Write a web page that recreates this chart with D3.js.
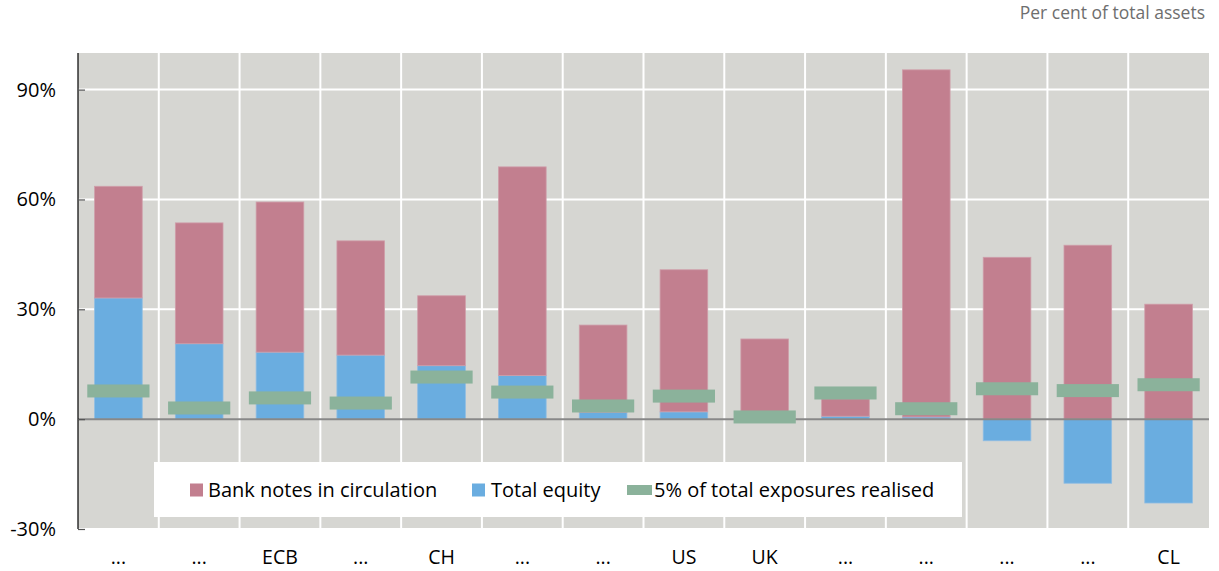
<!DOCTYPE html>
<html>
<head>
<meta charset="utf-8">
<script src="https://cdn.jsdelivr.net/npm/d3@7"></script>
<style>
  html, body { margin: 0; padding: 0; background: #ffffff; }
  svg { display: block; font-family: "Open Sans", "Noto Sans", sans-serif; }
</style>
</head>
<body>
<svg id="chart" width="1219" height="571"></svg>
<script>
// ---- data ----
const categories = ["...", "...", "ECB", "...", "CH", "...", "...", "US", "UK", "...", "...", "...", "...", "CL"];
const totalEquity = [33.1, 20.6, 18.3, 17.5, 14.6, 11.9, 1.9, 2.0, 0.0, 0.8, 0.6, -5.9, -17.5, -22.9];
const bankNotes   = [30.5, 33.0, 41.0, 31.2, 19.1, 57.0, 23.8, 38.8, 21.9, 4.75, 94.8, 44.2, 47.5, 31.4];
const exposures5  = [7.7, 3.05, 5.8, 4.4, 11.5, 7.4, 3.6, 6.3, 0.6, 7.15, 2.85, 8.3, 7.8, 9.4];
const yTicks = [-30, 0, 30, 60, 90];
const seriesNames = ["Bank notes in circulation", "Total equity", "5% of total exposures realised"];
const unitLabel = "Per cent of total assets";

(function () {
// ---- styles ----
const colNotes = "#C27F8F", colEquity = "#6AADE0", colExp = "#8BB29B";
const bg = "#D6D6D2";

const svg = d3.select("#chart");
const pL = 78, pR = 1209, pT = 53, pB = 529;

const x = d3.scaleBand().domain(d3.range(categories.length)).range([pL, pR]).paddingInner(0).paddingOuter(0);
const y = d3.scaleLinear().domain([-30, 100]).range([pB, pT]);

// background
svg.append("rect").attr("x", pL).attr("y", pT).attr("width", pR - pL).attr("height", pB - 1 - pT).attr("fill", bg);

// horizontal grid
svg.append("g").selectAll("line").data(yTicks.filter(d => d !== 0 && d !== -30)).join("line")
  .attr("x1", pL).attr("x2", pR).attr("y1", d => y(d)).attr("y2", d => y(d))
  .attr("stroke", "#ffffff").attr("stroke-width", 2);
// vertical category separators
svg.append("g").selectAll("line").data(d3.range(1, categories.length)).join("line")
  .attr("x1", i => x(i)).attr("x2", i => x(i)).attr("y1", pT).attr("y2", pB - 1)
  .attr("stroke", "#ffffff").attr("stroke-width", 2);

const bw = x.bandwidth();
const barW = bw * 0.59, mkW = bw * 0.77, mkH = 13;

// equity bars
svg.append("g").selectAll("rect").data(totalEquity).join("rect")
  .attr("x", (d, i) => x(i) + (bw - barW) / 2)
  .attr("y", d => d >= 0 ? y(d) : y(0))
  .attr("width", barW)
  .attr("height", d => Math.abs(y(d) - y(0)))
  .attr("fill", colEquity).attr("stroke", "#8fbde3").attr("stroke-width", 0.8);

// bank notes stacked on positive equity
svg.append("g").selectAll("rect").data(bankNotes).join("rect")
  .attr("x", (d, i) => x(i) + (bw - barW) / 2)
  .attr("y", (d, i) => y(Math.max(totalEquity[i], 0) + d))
  .attr("width", barW)
  .attr("height", (d, i) => y(Math.max(totalEquity[i], 0)) - y(Math.max(totalEquity[i], 0) + d))
  .attr("fill", colNotes).attr("stroke", "#cf9eaa").attr("stroke-width", 0.8);

// zero line
svg.append("line").attr("x1", pL).attr("x2", pR).attr("y1", y(0)).attr("y2", y(0))
  .attr("stroke", "#888888").attr("stroke-width", 2);

// exposure markers
svg.append("g").selectAll("rect").data(exposures5).join("rect")
  .attr("x", (d, i) => x(i) + (bw - mkW) / 2)
  .attr("y", d => y(d) - mkH / 2)
  .attr("width", mkW).attr("height", mkH)
  .attr("fill", colExp);

// y axis
const yAxis = d3.axisLeft(y).tickValues(yTicks).tickFormat(d => d + "%").tickSize(-7).tickPadding(22);
const ga = svg.append("g").attr("transform", `translate(${pL},0)`).call(yAxis);
ga.select(".domain").attr("stroke", "#000").attr("stroke-width", 1.2).attr("d", `M0,${pT}V${pB}`);
ga.selectAll(".tick line").attr("stroke", "#555").attr("stroke-width", 1.2);
ga.selectAll(".tick text").attr("font-size", 20).attr("fill", "#000").attr("font-family", "'Open Sans', sans-serif");

// x labels
const xAxis = d3.axisBottom(x).tickFormat(i => categories[i]).tickSize(0).tickPadding(21);
const gx = svg.append("g").attr("transform", `translate(0,${pB})`).call(xAxis);
gx.select(".domain").remove();
gx.selectAll(".tick text").attr("font-size", 19.5).attr("fill", "#000").attr("font-family", "'Open Sans', sans-serif");

// legend
const lg = svg.append("g");
lg.append("rect").attr("x", 154).attr("y", 462).attr("width", 808).attr("height", 55).attr("fill", "#ffffff");
const legendItems = [
  { name: seriesNames[0], color: colNotes, sx: 190, sw: 13, sh: 13, tx: 208 },
  { name: seriesNames[1], color: colEquity, sx: 472, sw: 13, sh: 13, tx: 491 },
  { name: seriesNames[2], color: colExp, sx: 627, sw: 25, sh: 10, tx: 654 }
];
legendItems.forEach(it => {
  lg.append("rect").attr("x", it.sx).attr("y", 490 - it.sh / 2).attr("width", it.sw).attr("height", it.sh).attr("fill", it.color);
  lg.append("text").attr("x", it.tx).attr("y", 497).attr("font-size", 20).attr("fill", "#000").text(it.name);
});

// unit label
svg.append("text").attr("x", 1205).attr("y", 19).attr("text-anchor", "end")
  .attr("font-size", 17.5).attr("fill", "#6e6e6e").text(unitLabel);
})();
</script>
</body>
</html>
